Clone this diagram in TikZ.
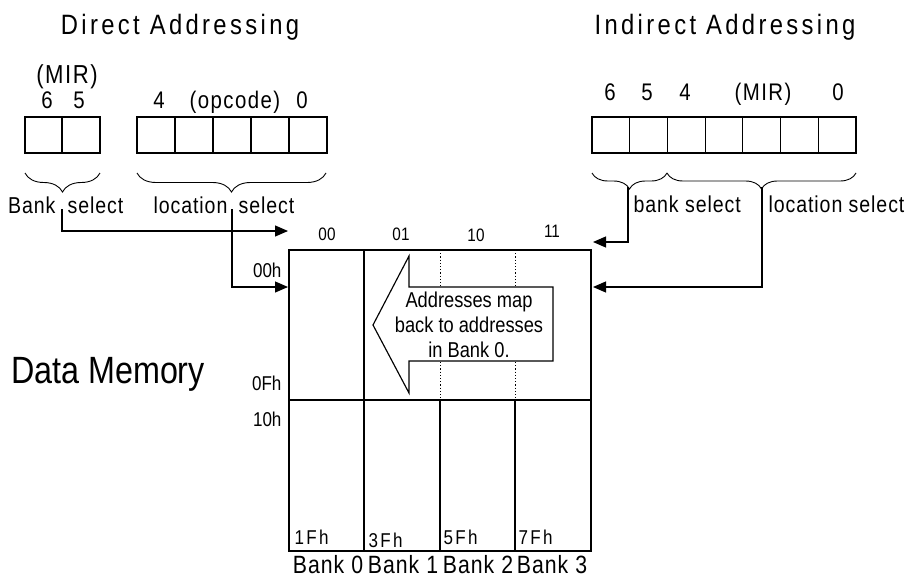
\documentclass[tikz,border=0pt]{standalone}
\usepackage{fontspec}
\setmainfont{Liberation Sans}[FakeStretch=0.85]
\newfontfamily\titlefont{Liberation Sans}[FakeStretch=0.85,LetterSpace=12]
\newfontfamily\lblfont{Liberation Sans}[FakeStretch=0.85,LetterSpace=4]
\newfontfamily\bitfont{Liberation Sans}[FakeStretch=0.85,LetterSpace=6]
\newfontfamily\numfont{Liberation Sans}[FakeStretch=0.85,LetterSpace=12]
\usetikzlibrary{arrows.meta,decorations.pathreplacing}
\begin{document}
\begin{tikzpicture}[x=1pt,y=-1pt,line width=1.15pt,
  ttl/.style={inner sep=0pt,font=\titlefont\fontsize{28}{31}\selectfont},
  lbl/.style={inner sep=0pt,font=\lblfont\fontsize{23}{27}\selectfont},
  bit/.style={inner sep=0pt,font=\bitfont\fontsize{24}{27}\selectfont},
  big/.style={inner sep=0pt,font=\fontsize{38}{42}\selectfont},
  addr/.style={inner sep=0pt,font=\fontsize{20}{24}\selectfont},
  endaddr/.style={inner sep=0pt,font=\numfont\fontsize{20}{24}\selectfont},
  banklbl/.style={inner sep=0pt,font=\lblfont\fontsize{25}{28}\selectfont},
  hdr/.style={inner sep=0pt,font=\fontsize{18}{21}\selectfont},
  note/.style={inner sep=0pt,align=center,font=\fontsize{21.5}{25}\selectfont},
  bracel/.style={line width=0.9pt,decorate,decoration={brace,mirror,amplitude=19pt}},
  bracer/.style={line width=0.9pt,decorate,decoration={brace,mirror,amplitude=16pt}},
  arr/.style={-{Triangle[length=13pt,width=11pt]}},
  dotln/.style={line width=1pt,dash pattern=on 1.2pt off 2pt}]
\useasboundingbox (0,0) rectangle (918,578);

% titles
\node[ttl,anchor=base] (tD) at (180,35) {Direct Addressing};
\node[ttl,anchor=base] (tI) at (725,35) {Indirect Addressing};

% direct addressing bits
\node[bit,anchor=base,font=\bitfont\fontsize{26}{29}\selectfont] (mirL) at (67,83) {(MIR)};
\node[bit,anchor=base] (d6) at (47,108) {6};
\node[bit,anchor=base] (d5) at (79,108) {5};
\node[bit,anchor=base] (d4) at (159,108) {4};
\node[bit,anchor=base] (dop) at (235,108) {(opcode)};
\node[bit,anchor=base] (d0) at (302,108) {0};
\foreach \a/\b in {25/62,62/100,137/175,175/213,213/251,251/289,289/327}
  \draw (\a,117) rectangle (\b,153);

% indirect addressing bits
\node[bit,anchor=base] (i6) at (610,100) {6};
\node[bit,anchor=base] (i5) at (647,100) {5};
\node[bit,anchor=base] (i4) at (685,100) {4};
\node[bit,anchor=base] (imir) at (763,100) {(MIR)};
\node[bit,anchor=base] (i0) at (838,100) {0};
\foreach \a/\b in {592/629.7,629.7/667.4,667.4/705.1,705.1/742.9,742.9/780.6,780.6/818.3,818.3/856}
  \draw (\a,117) rectangle (\b,153);

% braces
\draw[bracel] (25,173) -- (100,173);
\draw[bracel] (137,173) -- (326,173);
\draw[bracer] (592,173) -- (667,173);
\draw[bracer] (667,173) -- (856,173);

% brace labels
\node[lbl,anchor=base east] (bankL) at (56,213) {Bank};
\node[lbl,anchor=base west] (bselL) at (67,213) {select};
\node[lbl,anchor=base east] (locL) at (228,213) {location};
\node[lbl,anchor=base west] (lselL) at (238,213) {select};
\node[lbl,anchor=base west] (bankR) at (633,212) {bank select};
\node[lbl,anchor=base west] (locR) at (768,212) {location select};

% Data Memory
\node[big,anchor=base] (dm) at (108,383) {Data Memory};

% memory block
\node[draw,minimum width=302pt,minimum height=301pt,inner sep=0pt] (mem) at (440,400.5) {};
\draw (mem.west |- 0,400) -- (mem.east |- 0,400);
\draw (364,250) -- (364,551);
\draw[dotln] (440,250) -- (440,400);
\draw[dotln] (515,250) -- (515,400);
\draw (440,400) -- (440,551);
\draw (515,400) -- (515,551);

% column headers
\node[hdr,anchor=base] (h00) at (327,240) {00};
\node[hdr,anchor=base] (h01) at (401,240) {01};
\node[hdr,anchor=base] (h10) at (476,241) {10};
\node[hdr,anchor=base] (h11) at (552,237) {11};

% address labels
\node[addr,anchor=base east] (a00) at (282,277) {00h};
\node[addr,anchor=base east] (a0F) at (282,390) {0Fh};
\node[addr,anchor=base east] (a10) at (282,426) {10h};
\node[endaddr,anchor=base west] (a1F) at (294,544) {1Fh};
\node[endaddr,anchor=base west] (a3F) at (368,547) {3Fh};
\node[endaddr,anchor=base west] (a5F) at (443,544) {5Fh};
\node[endaddr,anchor=base west] (a7F) at (518,544) {7Fh};

% bank labels
\node[banklbl,anchor=base] (bk0) at (328,573) {Bank 0};
\node[banklbl,anchor=base] (bk1) at (403,573) {Bank 1};
\node[banklbl,anchor=base] (bk2) at (478,573) {Bank 2};
\node[banklbl,anchor=base] (bk3) at (552,573) {Bank 3};

% big arrow
\draw[fill=white] (373,325) -- (409,256) -- (409,287) -- (553,287) -- (553,361)
  -- (409,361) -- (409,393) -- cycle;
\node[note] (map) at (469,325) {Addresses map\\back to addresses\\in Bank 0.};

% connectors
\coordinate (bsL) at (62,209);
\coordinate (lsL) at (232,209);
\coordinate (bsR) at (628,187);
\coordinate (lsR) at (762,187);
\coordinate (inBankL) at (288,231);
\coordinate (inLocL) at (288,287);
\coordinate (inBankR) at (593,242);
\coordinate (inLocR) at (593,287);
\draw[arr] (bsL) |- (inBankL);
\draw[arr] (lsL) |- (inLocL);
\draw[arr] (bsR) |- (inBankR);
\draw[arr] (lsR) |- (inLocR);
\end{tikzpicture}
\end{document}
